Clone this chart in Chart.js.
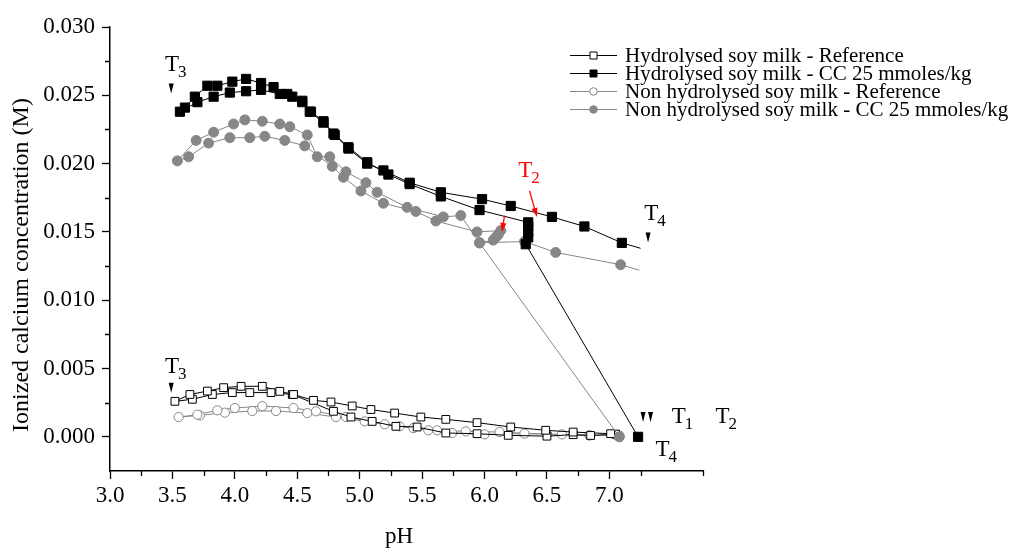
<!DOCTYPE html>
<html>
<head>
<meta charset="utf-8">
<script src="https://cdn.jsdelivr.net/npm/chart.js@4.4.0/dist/chart.umd.min.js"></script>
<style>
  html, body { margin: 0; padding: 0; background: #fff; }
  #wrap { width: 1009px; height: 549px; }
</style>
</head>
<body>
<div id="wrap"><canvas id="caChart" width="1009" height="549"></canvas></div>
<script>
// pH and ionized Ca (M), each series walks T1 -> T2 -> T3 (acid) -> T4 (back up)
var hydRefPH = [7.05, 6.85, 6.71, 6.50, 6.19, 5.94, 5.69, 5.46, 5.29, 5.10, 4.93, 4.79, 4.46, 4.29, 4.12, 3.98, 3.82, 3.66, 3.52,
                3.64, 3.78, 3.91, 4.05, 4.22, 4.36, 4.47, 4.63, 4.77, 4.94, 5.09, 5.28, 5.49, 5.69, 5.94, 6.21, 6.49, 6.71, 7.01];
var hydRefCa = [0.00020, 0.00010, 0.00016, 0.00005, 0.00011, 0.00023, 0.00028, 0.00072, 0.00077, 0.00113, 0.00145, 0.00187, 0.00310, 0.00324, 0.00324, 0.00324, 0.00310, 0.00275, 0.00260,
                0.00310, 0.00335, 0.00360, 0.00370, 0.00370, 0.00333, 0.00310, 0.00267, 0.00255, 0.00226, 0.00200, 0.00174, 0.00145, 0.00128, 0.00104, 0.00072, 0.00048, 0.00035, 0.00023];

var hydCcPH = [7.23, 6.33, 6.35, 6.35, 6.35, 6.35,
               5.96, 5.65, 5.40, 5.23, 5.06, 4.91, 4.79, 4.71, 4.60, 4.54, 4.46, 4.36, 4.21, 4.09, 3.96, 3.83, 3.70, 3.56,
               3.60, 3.68, 3.78, 3.86, 3.98, 4.09, 4.21, 4.31, 4.42, 4.54, 4.61, 4.71, 4.80, 4.91, 5.06, 5.19, 5.40, 5.65, 5.98, 6.21, 6.54, 6.80, 7.10, 7.25];
var hydCcCa = [0.0000, 0.0141, 0.0146, 0.0150, 0.0154, 0.0157,
               0.0166, 0.0176, 0.0185, 0.0192, 0.0201, 0.0212, 0.0222, 0.0230, 0.0238, 0.0245, 0.0249, 0.0251, 0.0254, 0.0253, 0.0252, 0.0249, 0.0245, 0.0238,
               0.0241, 0.0249, 0.0257, 0.0257, 0.0260, 0.0262, 0.0259, 0.0256, 0.0251, 0.0246, 0.0238, 0.0231, 0.0221, 0.0211, 0.0200, 0.0195, 0.0186, 0.0179, 0.0174, 0.0169, 0.0161, 0.0154, 0.0142, 0.0138];

var nonRefPH = [7.08, 6.84, 6.62, 6.32, 6.00, 5.74, 5.55, 5.32, 5.04, 4.81, 4.58, 4.33, 4.14, 3.92, 3.72, 3.55,
                3.70, 3.86, 4.00, 4.22, 4.47, 4.65, 4.89, 5.20, 5.43, 5.62, 5.85, 6.12, 6.50, 6.84, 7.06];
var nonRefCa = [0.00010, 0.00010, 0.00018, 0.00023, 0.00018, 0.00028, 0.00048, 0.00077, 0.00113, 0.00145, 0.00174, 0.00189, 0.00189, 0.00177, 0.00157, 0.00145,
                0.00162, 0.00194, 0.00211, 0.00225, 0.00211, 0.00187, 0.00145, 0.00092, 0.00064, 0.00048, 0.00040, 0.00035, 0.00020, 0.00012, 0.00010];

var nonCcPH = [7.08, 5.96, 6.07, 6.09, 6.11, 6.13,
               5.94, 5.61, 5.45, 5.19, 5.01, 4.87, 4.78, 4.56, 4.40, 4.24, 4.12, 3.96, 3.79, 3.63, 3.54,
               3.69, 3.83, 3.99, 4.08, 4.22, 4.36, 4.44, 4.58, 4.66, 4.76, 4.89, 5.05, 5.14, 5.38, 5.67, 5.81, 5.96, 6.32, 6.57, 7.09, 7.24];
var nonCcCa = [0.0000, 0.0142, 0.0144, 0.0146, 0.0148, 0.0151,
               0.0150, 0.0158, 0.0165, 0.0171, 0.0180, 0.0190, 0.0198, 0.0213, 0.0217, 0.0220, 0.0219, 0.0219, 0.0215, 0.0205, 0.0202,
               0.0217, 0.0223, 0.0229, 0.0232, 0.0231, 0.0229, 0.0227, 0.0221, 0.0205, 0.0205, 0.0194, 0.0186, 0.0179, 0.0168, 0.0161, 0.0162, 0.0142, 0.0143, 0.0135, 0.0126, 0.0122];

var seriesNames = [
  'Hydrolysed soy milk - Reference',
  'Hydrolysed soy milk - CC 25 mmoles/kg',
  'Non hydrolysed soy milk - Reference',
  'Non hydrolysed soy milk - CC 25 mmoles/kg'
];

var serif = "'Liberation Serif', 'Times New Roman', serif";
var grey = '#878787';

function pts(ph, ca) {
  return ph.map(function(p, i) { return { x: p, y: ca[i] }; });
}

// label marks in data units: [pH, Ca, main, sub, color]
var tLabels = [
  [3.44, 0.0268, 'T', '3', '#000'],
  [3.44, 0.0047, 'T', '3', '#000'],
  [6.27, 0.0190, 'T', '2', '#ff0000'],
  [7.28, 0.0159, 'T', '4', '#000'],
  [7.50, 0.0010, 'T', '1', '#000'],
  [7.85, 0.0010, 'T', '2', '#000'],
  [7.37, -0.0014, 'T', '4', '#000']
];
var tMarkers = [[3.49, 0.0255], [3.49, 0.0036], [7.31, 0.0146], [7.27, 0.00145], [7.33, 0.00145]];
var redArrows = [[6.36, 0.0180, 6.42, 0.0161], [6.16, 0.0162, 6.14, 0.0150]];

var minorTicks = {
  id: 'minorTicks',
  afterDraw: function(chart) {
    var c = chart.ctx, xs = chart.scales.x, ys = chart.scales.y, a = chart.chartArea;
    c.save();
    c.strokeStyle = '#000';
    c.lineWidth = 1.3;
    c.beginPath();
    for (var v = 3.25; v <= 7.76; v += 0.5) {
      var px = Math.round(xs.getPixelForValue(v)) + 0.5;
      c.moveTo(px, a.bottom); c.lineTo(px, a.bottom + 5);
    }
    for (var w = 0.0025; w < 0.030; w += 0.005) {
      var py = Math.round(ys.getPixelForValue(w)) + 0.5;
      c.moveTo(a.left, py); c.lineTo(a.left - 5, py);
    }
    c.stroke();
    c.restore();
  }
};

var marks = {
  id: 'marks',
  afterDraw: function(chart) {
    var c = chart.ctx, xs = chart.scales.x, ys = chart.scales.y;
    c.save();
    c.textBaseline = 'alphabetic';
    c.textAlign = 'left';
    tLabels.forEach(function(t) {
      var px = xs.getPixelForValue(t[0]), py = ys.getPixelForValue(t[1]);
      c.fillStyle = t[4];
      c.font = '23px ' + serif;
      c.fillText(t[2], px, py);
      var w = c.measureText(t[2]).width;
      c.font = '17px ' + serif;
      c.fillText(t[3], px + w - 1, py + 6);
    });
    c.fillStyle = '#000';
    tMarkers.forEach(function(m) {
      var px = xs.getPixelForValue(m[0]), py = ys.getPixelForValue(m[1]);
      c.beginPath();
      c.moveTo(px - 2.5, py - 5); c.lineTo(px + 2.5, py - 5); c.lineTo(px, py + 5);
      c.closePath(); c.fill();
    });
    c.strokeStyle = '#ff0000';
    c.fillStyle = '#ff0000';
    c.lineWidth = 1.3;
    redArrows.forEach(function(r) {
      var x0 = xs.getPixelForValue(r[0]), y0 = ys.getPixelForValue(r[1]);
      var x1 = xs.getPixelForValue(r[2]), y1 = ys.getPixelForValue(r[3]);
      var ang = Math.atan2(y1 - y0, x1 - x0);
      c.beginPath(); c.moveTo(x0, y0); c.lineTo(x1 - 6 * Math.cos(ang), y1 - 6 * Math.sin(ang)); c.stroke();
      c.beginPath();
      c.moveTo(x1, y1);
      c.lineTo(x1 - 9 * Math.cos(ang) + 3 * Math.sin(ang), y1 - 9 * Math.sin(ang) - 3 * Math.cos(ang));
      c.lineTo(x1 - 9 * Math.cos(ang) - 3 * Math.sin(ang), y1 - 9 * Math.sin(ang) + 3 * Math.cos(ang));
      c.closePath(); c.fill();
    });

    // axis titles
    c.fillStyle = '#000';
    c.font = '23px ' + serif;
    c.textAlign = 'center';
    c.textBaseline = 'middle';
    c.fillText('pH', 399, 537);
    c.save();
    c.translate(22, 265);
    c.rotate(-Math.PI / 2);
    c.font = '24px ' + serif;
    c.fillText('Ionized calcium concentration (M)', 0, 0);
    c.restore();

    // legend
    c.textAlign = 'left';
    c.font = '21px ' + serif;
    chart.data.datasets.forEach(function(ds, i) {
      var ly = 55 + i * 18;
      c.strokeStyle = ds.borderColor;
      c.lineWidth = 1;
      c.beginPath(); c.moveTo(570, ly + 0.5); c.lineTo(617, ly + 0.5); c.stroke();
      c.fillStyle = ds.pointBackgroundColor;
      c.strokeStyle = ds.pointBorderColor;
      c.beginPath();
      if (ds.pointStyle === 'rect') c.rect(590, ly - 3, 7, 7);
      else c.arc(593.5, ly + 0.5, 3.8, 0, Math.PI * 2);
      c.fill(); c.stroke();
      c.fillStyle = '#000';
      c.fillText(seriesNames[i], 625, ly + 1);
    });
    c.restore();
  }
};

function isMajor(v, step) {
  return Math.abs(v / step - Math.round(v / step)) < 1e-6;
}

var ctx = document.getElementById('caChart');
var caChart = new Chart(ctx, {
  type: 'scatter',
  data: {
    datasets: [{
      label: seriesNames[0],
      data: pts(hydRefPH, hydRefCa),
      showLine: true,
      borderColor: '#000',
      borderWidth: 1,
      pointStyle: 'rect',
      pointRadius: 5.5,
      pointBackgroundColor: '#fff',
      pointBorderColor: '#000',
      pointBorderWidth: 1,
      order: 3
    }, {
      label: seriesNames[1],
      data: pts(hydCcPH, hydCcCa),
      showLine: true,
      borderColor: '#000',
      borderWidth: 1,
      pointStyle: 'rect',
      pointRadius: function(c) { return c.dataIndex === hydCcPH.length - 1 ? 0 : 6.5; },
      pointBackgroundColor: '#000',
      pointBorderColor: '#000',
      pointBorderWidth: 1,
      order: 1
    }, {
      label: seriesNames[2],
      data: pts(nonRefPH, nonRefCa),
      showLine: true,
      borderColor: grey,
      borderWidth: 1,
      pointStyle: 'circle',
      pointRadius: 4.6,
      pointBackgroundColor: '#fff',
      pointBorderColor: grey,
      pointBorderWidth: 1,
      order: 4
    }, {
      label: seriesNames[3],
      data: pts(nonCcPH, nonCcCa),
      showLine: true,
      borderColor: grey,
      borderWidth: 1,
      pointStyle: 'circle',
      pointRadius: function(c) { return c.dataIndex === nonCcPH.length - 1 ? 0 : 5; },
      pointBackgroundColor: grey,
      pointBorderColor: grey,
      pointBorderWidth: 1,
      order: 2
    }]
  },
  options: {
    responsive: false,
    animation: false,
    layout: { padding: { left: 0, right: 306, top: 27, bottom: 0 } },
    elements: { line: { tension: 0 } },
    plugins: { legend: { display: false }, tooltip: { enabled: false } },
    scales: {
      x: {
        type: 'linear',
        min: 3,
        max: 7.75,
        afterFit: function(s) { s.height = 78; },
        afterBuildTicks: function(s) { s.ticks = s.ticks.filter(function(t) { return isMajor(t.value, 0.5); }); },
        ticks: {
          stepSize: 0.5,
          autoSkip: false,
          maxRotation: 0,
          padding: 3,
          color: '#000',
          font: { family: serif, size: 23 },
          callback: function(v) { return Number(v).toFixed(1); }
        },
        grid: { drawOnChartArea: false, tickLength: 8, tickColor: '#000', tickWidth: 1.3 },
        border: { color: '#000', width: 1.5 }
      },
      y: {
        type: 'linear',
        min: -0.0025,
        max: 0.030,
        afterFit: function(s) { s.width = 110; },
        afterBuildTicks: function(s) { s.ticks = s.ticks.filter(function(t) { return isMajor(t.value, 0.005); }); },
        ticks: {
          stepSize: 0.005,
          autoSkip: false,
          padding: 7,
          color: '#000',
          font: { family: serif, size: 23 },
          callback: function(v) { return Number(v).toFixed(3); }
        },
        grid: { drawOnChartArea: false, tickLength: 8, tickColor: '#000', tickWidth: 1.3 },
        border: { color: '#000', width: 1.5 }
      }
    }
  },
  plugins: [minorTicks, marks]
});
</script>
</body>
</html>
